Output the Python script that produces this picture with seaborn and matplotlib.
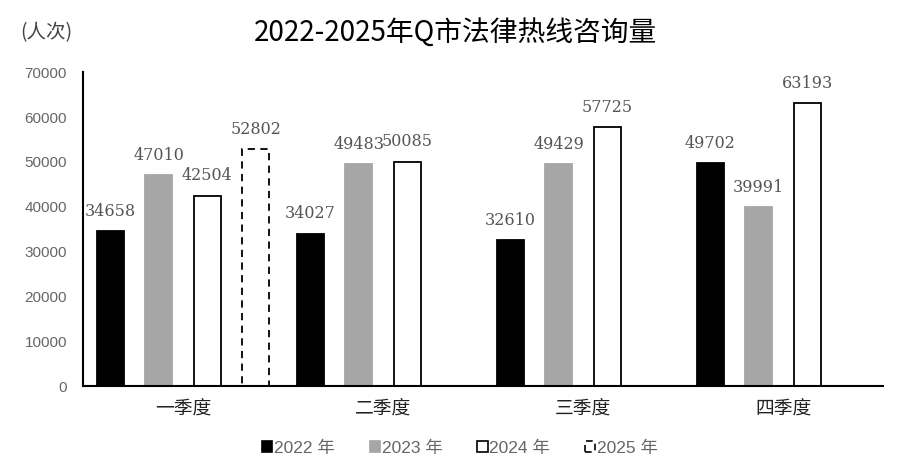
import numpy as np
import pandas as pd
import matplotlib
matplotlib.use("Agg")
import matplotlib.pyplot as plt
from matplotlib.patches import Patch
import seaborn as sns

# datos
quarters = ["一季度", "二季度", "三季度", "四季度"]
years = ["2022 年", "2023 年", "2024 年", "2025 年"]
v2022 = [34658, 34027, 32610, 49702]
v2023 = [47010, 49483, 49429, 39991]
v2024 = [42504, 50085, 57725, 63193]
v2025 = [52802, np.nan, np.nan, np.nan]
yticks = [0, 10000, 20000, 30000, 40000, 50000, 60000, 70000]

rows = []
for y, vals in zip(years, [v2022, v2023, v2024, v2025]):
    for q, v in zip(quarters, vals):
        rows.append({"quarter": q, "year": y, "value": v})
df = pd.DataFrame(rows)

sns.set_style("white")
cjk = ["Noto Sans CJK SC", "DejaVu Sans"]
plt.rcParams["font.family"] = cjk

fig = plt.figure(figsize=(9.02, 4.72), dpi=100)
ax = fig.add_axes([0.092, 0.182, 0.887, 0.665])

faces = ["black", "#a6a6a6", "white", "white"]
sns.barplot(data=df, x="quarter", y="value", hue="year", hue_order=years,
            order=quarters, palette=faces, width=0.97, gap=0.443,
            ax=ax, legend=False, saturation=1, errorbar=None)

# bordes de cada serie
edges = ["black", "#a6a6a6", "black", "black"]
styles = ["-", "-", "-", (0, (4, 3))]
for cont, ec, ls in zip(ax.containers, edges, styles):
    for p in cont.patches:
        p.set_edgecolor(ec)
        p.set_linewidth(1.3)
        p.set_linestyle(ls)
    labels = ["" if np.isnan(v) else "%d" % v for v in cont.datavalues]
    ax.bar_label(cont, labels=labels, padding=8, color="#555555",
                 fontsize=11.5, family="DejaVu Serif")

ax.set_xlim(-0.5, 3.5)
ax.set_ylim(0, 70000)
ax.set_yticks(yticks)
ax.set_yticklabels([str(t) for t in yticks], family="Liberation Sans",
                   fontsize=11, color="#666666")
ax.set_xticks(range(4))
ax.set_xticklabels(quarters, fontsize=13.5, fontweight="medium", color="#222222")
ax.set_xticks(np.arange(-0.5, 4, 1), minor=True)
ax.tick_params(axis="x", which="major", length=0, pad=9)
ax.tick_params(axis="x", which="minor", direction="in", length=5, width=1.2)
ax.tick_params(axis="y", direction="inout", length=7, width=1.2, pad=8)
ax.set_xlabel("")
ax.set_ylabel("")

sns.despine(ax=ax)
for s in ["left", "bottom"]:
    ax.spines[s].set_color("black")
    ax.spines[s].set_linewidth(1.5)

fig.text(0.505, 0.93, "2022-2025年Q市法律热线咨询量", ha="center", va="center",
         fontsize=20, fontweight="medium", color="black")
fig.text(0.022, 0.93, "(人次)", ha="left", va="center", fontsize=14,
         color="#444444")

handles = []
for fc, ec, ls in zip(faces, edges, styles):
    handles.append(Patch(facecolor=fc, edgecolor=ec, linestyle=ls, linewidth=1.2))
leg = fig.legend(handles, years, loc="center", bbox_to_anchor=(0.51, 0.05),
                 ncol=4, frameon=False, handlelength=0.6, handleheight=0.6,
                 handletextpad=0.1, columnspacing=2.0,
                 prop={"family": ["Liberation Sans", "Noto Sans CJK SC"], "size": 12.5})
for t in leg.get_texts():
    t.set_color("#666666")

fig.savefig("out.png", dpi=100)
